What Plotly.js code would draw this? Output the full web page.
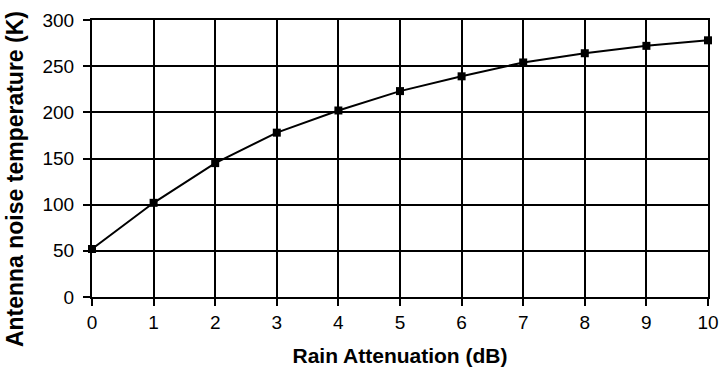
<!DOCTYPE html>
<html>
<head>
<meta charset="utf-8">
<script src="https://cdn.plot.ly/plotly-3.0.1.min.js"></script>
<style>html,body{margin:0;padding:0;background:#fff;}#chart{width:719px;height:369px;}</style>
</head>
<body>
<div id="chart"></div>
<script>
const attenuation = [0, 1, 2, 3, 4, 5, 6, 7, 8, 9, 10];
const noiseTemp = [52, 102, 145, 178, 202, 223, 239, 254, 264, 272, 278];
const xTicks = [0, 1, 2, 3, 4, 5, 6, 7, 8, 9, 10];
const yTicks = [0, 50, 100, 150, 200, 250, 300];
const xTitle = 'Rain Attenuation (dB)';
const yTitle = 'Antenna noise temperature (K)';

const font = 'Liberation Sans, Arial, Helvetica, sans-serif';

Plotly.newPlot('chart', [{
  x: attenuation,
  y: noiseTemp,
  type: 'scatter',
  mode: 'lines+markers',
  line: {color: '#000', width: 2},
  marker: {symbol: 'square', size: 8, color: '#000'},
  cliponaxis: false,
  showlegend: false
}], {
  width: 719, height: 369,
  margin: {l: 92, r: 11, t: 20, b: 72},
  paper_bgcolor: '#fff', plot_bgcolor: '#fff',
  font: {family: font, color: '#000', size: 19},
  xaxis: {
    range: [0, 10], tickvals: xTicks, ticktext: xTicks.map(String),
    showgrid: true, gridcolor: '#000', gridwidth: 2,
    showline: true, mirror: true, linecolor: '#000', linewidth: 2,
    ticks: 'outside', ticklen: 7, tickwidth: 2, tickcolor: '#000',
    ticklabeloverflow: 'allow',
    zeroline: false,
    tickfont: {size: 19, family: font, color: '#000'},
    title: {text: '<b>' + xTitle + '</b>', font: {size: 21, family: font, color: '#000'}, standoff: 17}
  },
  yaxis: {
    range: [0, 300], tickvals: yTicks, ticktext: yTicks.map(String),
    showgrid: true, gridcolor: '#000', gridwidth: 2,
    showline: true, mirror: true, linecolor: '#000', linewidth: 2,
    ticks: 'outside', ticklen: 7, tickwidth: 2, tickcolor: '#000',
    ticklabelstandoff: 5,
    ticklabeloverflow: 'allow',
    zeroline: false,
    tickfont: {size: 19, family: font, color: '#000'}
  },
  annotations: [{
    text: '<b>' + yTitle + '</b>',
    xref: 'paper', yref: 'paper',
    x: -0.1248, y: 0.426,
    xanchor: 'center', yanchor: 'middle',
    textangle: -90, showarrow: false,
    font: {size: 23, family: font, color: '#000'}
  }]
}, {displayModeBar: false, staticPlot: true});
</script>
</body>
</html>
